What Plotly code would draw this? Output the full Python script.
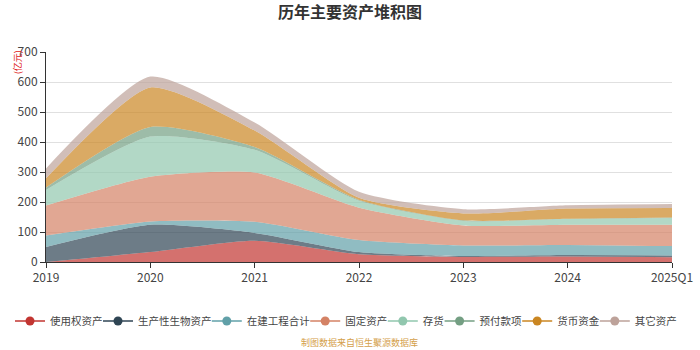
import plotly.graph_objects as go

categories = ["2019", "2020", "2021", "2022", "2023", "2024", "2025Q1"]
series_names = ["使用权资产", "生产性生物资产", "在建工程合计", "固定资产", "存货", "预付款项", "货币资金", "其它资产"]
v_shiyongquan = [0, 33, 71, 26, 17, 18, 16]
v_shengchanxing = [50, 91, 26, 7, 3, 5, 6]
v_zaijian = [38, 11, 37, 40, 35, 34, 31]
v_guding = [100, 149, 164, 108, 67, 67, 71]
v_cunhuo = [52, 134, 76, 23, 15, 19, 23]
v_yufu = [8, 32, 9, 3, 2, 1, 1]
v_huobi = [31, 132, 55, 7, 23, 34, 32]
v_qita = [33, 36, 27, 20, 14, 11, 13]
series_values = [v_shiyongquan, v_shengchanxing, v_zaijian, v_guding, v_cunhuo, v_yufu, v_huobi, v_qita]
colors = ["#c23531", "#2f4554", "#61a0a8", "#d48265", "#91c7ae", "#749f83", "#ca8622", "#bda29a"]
y_ticks = [0, 100, 200, 300, 400, 500, 600, 700]

FONT = "Noto Sans CJK SC, Microsoft YaHei, sans-serif"
W, H = 700, 350
PLOT_L, PLOT_R, PLOT_T, PLOT_B = 46, 672, 52, 262
LEG_FONT = 10.5
LEG_CHAR_W = 10.4
LEG_STEP = 36       # from end of one label to start of next label
LEG_TEXT0 = 50      # start of first label text (px)
LEG_Y = 321

def rgba(h, a):
    h = h.lstrip("#")
    r, g, b = int(h[0:2], 16), int(h[2:4], 16), int(h[4:6], 16)
    return f"rgba({r},{g},{b},{a})"

fig = go.Figure()
for name, vals, c in zip(series_names, series_values, colors):
    fig.add_trace(go.Scatter(
        x=categories, y=vals, name=name, stackgroup="one", mode="lines",
        line=dict(width=0, shape="spline", smoothing=0.6, color=c),
        fillcolor=rgba(c, 0.7), showlegend=False, hoverinfo="x+y+name"))

# one legend per entry so the row is laid out like the reference
legend_layouts = {}
text_x = LEG_TEXT0
for i, (name, c) in enumerate(zip(series_names, colors)):
    lid = "legend" if i == 0 else f"legend{i + 1}"
    fig.add_trace(go.Scatter(
        x=[None], y=[None], name=name, mode="lines+markers",
        line=dict(width=1.5, color=c), marker=dict(size=9, color=c),
        showlegend=True, legend=lid))
    legend_layouts[lid] = dict(
        orientation="h", xref="container", yref="container",
        x=(text_x - 40) / W, xanchor="left", y=(H - LEG_Y) / H, yanchor="middle",
        bgcolor="rgba(0,0,0,0)", font=dict(size=LEG_FONT, color="#444", family=FONT),
        itemwidth=30)
    text_x += len(name) * LEG_CHAR_W + LEG_STEP

fig.update_layout(
    width=W, height=H,
    margin=dict(l=PLOT_L, r=W - PLOT_R, t=PLOT_T, b=H - PLOT_B, autoexpand=False),
    paper_bgcolor="white", plot_bgcolor="white",
    font=dict(family=FONT, size=12, color="#555"),
    title=dict(text="<b>历年主要资产堆积图</b>", x=0.5, xanchor="center",
               y=(H - 12) / H, yanchor="middle",
               font=dict(size=16, color="#333", family=FONT)),
    showlegend=True,
    xaxis=dict(type="category", range=[0, len(categories) - 1], showgrid=False,
               showline=True, linecolor="#333", linewidth=1, ticks="outside", ticklen=5,
               tickcolor="#333", tickfont=dict(size=12, color="#444"), fixedrange=True),
    yaxis=dict(range=[0, 700], tickvals=y_ticks, showgrid=True, gridcolor="#e0e0e0",
               showline=True, linecolor="#333", linewidth=1, ticks="outside", ticklen=5,
               tickcolor="#333", tickfont=dict(size=12, color="#444"), zeroline=False,
               fixedrange=True),
    annotations=[
        dict(text="(亿元)", xref="paper", yref="paper", x=-0.045, y=0.95, textangle=-90,
             showarrow=False, font=dict(size=9, color="#e02020", family=FONT),
             xanchor="center", yanchor="middle"),
        dict(text="制图数据来自恒生聚源数据库", xref="paper", yref="paper", x=0.5, y=-0.385,
             showarrow=False, font=dict(size=9, color="#d4a04a", family=FONT),
             xanchor="center", yanchor="middle"),
    ],
    **legend_layouts,
)

fig.write_html("out.html")
